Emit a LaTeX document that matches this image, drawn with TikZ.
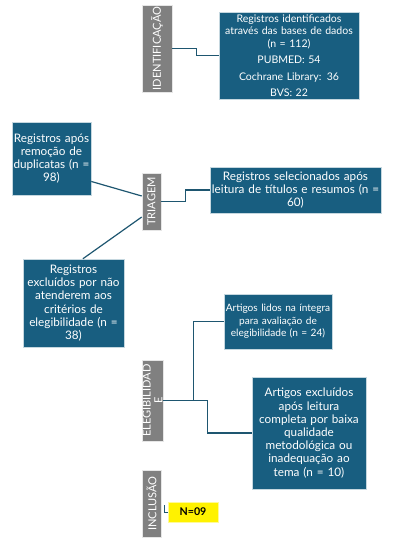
\documentclass[tikz,border=0pt]{standalone}
\usepackage{fontspec}
\setmainfont{Lato}
\usepackage{tikz}
\usetikzlibrary{positioning,calc}
\definecolor{boxblue}{HTML}{185E80}
\definecolor{lineblue}{HTML}{1E5670}
\definecolor{labgrey}{HTML}{808080}
\begin{document}
\begin{tikzpicture}[x=0.75pt,y=-0.75pt,
 b/.style={draw=white!75!boxblue,fill=boxblue,text=white,align=center,inner sep=1pt,font=\fontsize{8.8}{9.9}\selectfont},
 bs/.style={b,font=\fontsize{7.9}{9.4}\selectfont},
 g/.style={draw=white!80!labgrey,fill=labgrey,text=white,rotate=90,align=center,inner sep=0pt,font=\fontsize{8.3}{8.8}\selectfont},
 ln/.style={draw=lineblue,line width=0.9pt}]
\useasboundingbox (0,0) rectangle (411,542);
% Identificação
\node[g,minimum width=65.25pt,minimum height=22.5pt] (id) at (157,48.5) {IDENTIFICAÇÃO};
\node[bs,text width=103pt,minimum height=65.25pt] (ib) at (289,55.5) {Registros identificados\\através das bases de dados\\(n = 112)\\[3pt]PUBMED: 54\\[3pt]Cochrane Library: 36\\[3pt]BVS: 22};
\draw[ln] (id.south)--++(24,0)|-(ib.west);
% Triagem
\node[g,minimum width=42.75pt,minimum height=14.25pt] (tri) at (151.5,201.5) {TRIAGEM};
\node[b,text width=59.25pt,minimum height=54.75pt,inner sep=0pt] (dup) at (51.5,158.5) {Registros após\\remoção de\\duplicatas (n =\\98)};
\node[b,text width=126.25pt,minimum height=34.5pt] (sel) at (295.5,190) {Registros selecionados após\\leitura de títulos e resumos (n =\\60)};
\node[b,text width=73.75pt,minimum height=66pt] (ex1) at (73.5,303) {Registros\\excluídos por não\\atenderem aos\\critérios de\\elegibilidade (n =\\38)};
\draw[ln] (dup.-30)--($(tri.north)+(0,-5.5)$);
\draw[ln] ($(tri.north)+(0,15.5)$)--(ex1.78);
\draw[ln] (tri.south)--++(24,0)|-(sel.west);
% Elegibilidade
\node[g,minimum width=60.75pt,minimum height=15.75pt] (ele) at (152.5,400.5) {ELEGIBILIDAD\\E};
\node[bs,text width=81pt,inner sep=0pt,minimum height=41.25pt,font=\fontsize{7.6}{9.3}\selectfont] (lid) at (278,321.5) {Artigos lidos na íntegra\\para avaliação de\\elegibilidade (n = 24)};
\node[b,text width=83.5pt,minimum height=84pt] (ex2) at (309,433) {Artigos excluídos\\após leitura\\completa por baixa\\qualidade\\metodológica ou\\inadequação ao\\tema (n = 10)};
\coordinate (br) at ($(ele.south)+(30,0)$);
\draw[ln] (ele.south)--++(44,0)|-(ex2.west);
\draw[ln] (br)|-(lid.west);
% Inclusão
\node[g,minimum width=50.25pt,minimum height=14.25pt] (inc) at (151.5,503.5) {INCLUSÃO};
\node[draw=white!60!yellow,fill=yellow,font=\fontsize{8}{9}\selectfont\bfseries,minimum width=37.5pt,minimum height=15pt,inner sep=0pt] (nine) at (193,512) {N=09};
\coordinate (nt) at ($(nine.west)+(-3,-7)$);
\draw[ln,line width=0.6pt] (nine.west)-|(nt);
\end{tikzpicture}
\end{document}
